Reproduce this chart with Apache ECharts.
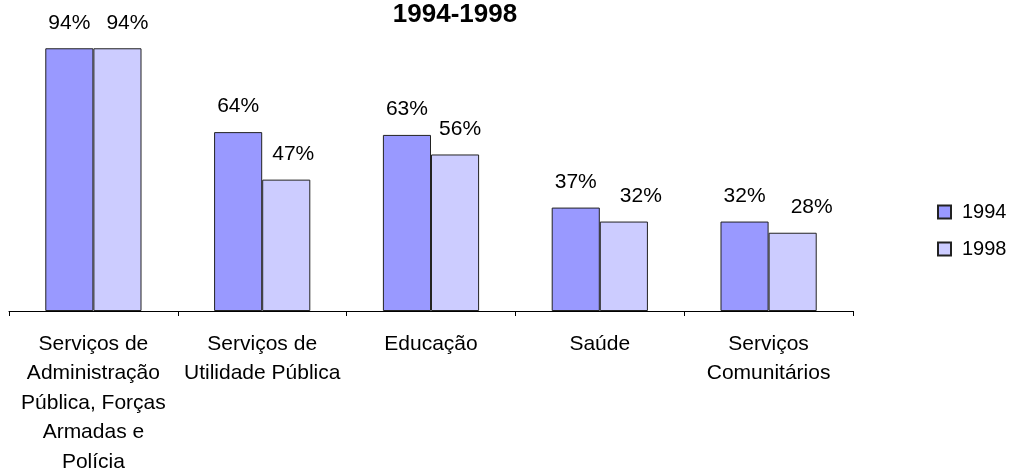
<!DOCTYPE html>
<html>
<head>
<meta charset="utf-8">
<script src="https://cdn.jsdelivr.net/npm/echarts@6/dist/echarts.min.js"></script>
<style>
html,body{margin:0;padding:0;background:#fff;}
#chart{width:1010px;height:472px;}
</style>
</head>
<body>
<div id="chart"></div>
<script>
// dados
var categorias = [
    'Serviços de\nAdministração\nPública, Forças\nArmadas e\nPolícia',
    'Serviços de\nUtilidade Pública',
    'Educação',
    'Saúde',
    'Serviços\nComunitários'
];
var valores1994 = [94, 64, 63, 37, 32];
var valores1998 = [94, 47, 56, 32, 28];

// deslocamento horizontal dos rótulos da série 1998 (como no original)
var deslocRotulo1998 = [10, 7, 5, 17, 19];

var fonte = 'Liberation Sans, Arial, sans-serif';

var rotulo = {
    show: true,
    position: 'top',
    distance: 15,
    formatter: '{c}%',
    color: '#000',
    fontSize: 21,
    fontFamily: fonte
};

var dados1998 = valores1998.map(function (v, i) {
    return { value: v, label: { offset: [deslocRotulo1998[i], 0] } };
});

var option = {
    backgroundColor: '#fff',
    animation: false,
    title: {
        text: '1994-1998',
        left: 450,
        textAlign: 'center',
        top: -3,
        textStyle: { fontSize: 26, fontWeight: 'bold', color: '#000', fontFamily: fonte }
    },
    legend: {
        orient: 'vertical',
        left: 932,
        top: 197,
        itemWidth: 13,
        itemHeight: 13,
        itemGap: 17,
        icon: 'rect',
        data: ['1994', '1998'],
        textStyle: { fontSize: 20, color: '#000', fontFamily: fonte, padding: [0, 0, 0, 6] }
    },
    grid: {
        left: 9, right: 157, top: 31.5, bottom: 161,
        containLabel: false, outerBoundsMode: 'none'
    },
    xAxis: {
        type: 'category',
        data: categorias,
        axisLine: { lineStyle: { color: '#000', width: 1 } },
        axisTick: { show: true, length: 5, lineStyle: { color: '#000' } },
        axisLabel: {
            color: '#000', fontSize: 21, fontFamily: fonte,
            lineHeight: 29.5, margin: 18, interval: 0
        }
    },
    yAxis: {
        type: 'value',
        min: 0, max: 100,
        show: false,
        splitLine: { show: false }
    },
    series: [
        {
            name: '1994',
            type: 'bar',
            data: valores1994,
            barGap: '0%',
            barCategoryGap: '43%',
            itemStyle: { color: '#9999ff', borderColor: '#222', borderWidth: 1 },
            label: rotulo
        },
        {
            name: '1998',
            type: 'bar',
            data: dados1998,
            itemStyle: { color: '#ccccff', borderColor: '#222', borderWidth: 1 },
            label: rotulo
        }
    ]
};

var myChart = echarts.init(document.getElementById('chart'));
myChart.setOption(option);
</script>
</body>
</html>
